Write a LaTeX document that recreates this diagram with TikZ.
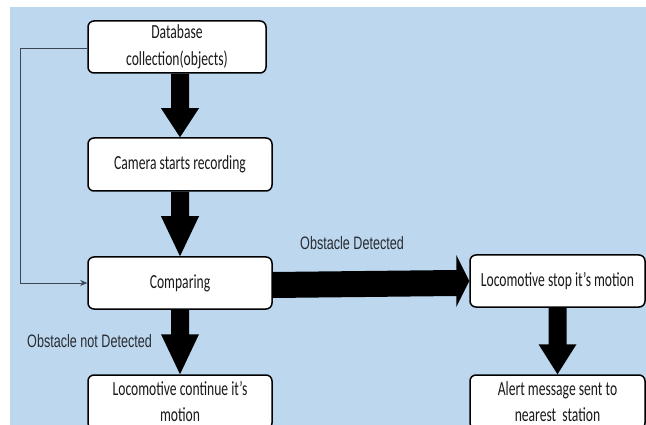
\documentclass[tikz,border=0pt]{standalone}
\usepackage{fontspec}
\setmainfont{Carlito}
\newfontfamily\boxfont[FakeStretch=0.68]{Carlito}
\newfontfamily\labfont[FakeStretch=0.7]{Liberation Sans}
\usetikzlibrary{calc,arrows.meta}
\definecolor{bgblue}{RGB}{189,215,238}
\definecolor{labgray}{RGB}{40,44,50}
\definecolor{fbline}{RGB}{60,70,85}
\tikzset{
  flowbox/.style={draw=black, line width=1.5pt, fill=white, rounded corners=6pt,
    minimum height=52pt, inner sep=0pt, align=center,
    font=\boxfont\fontsize{20}{27}\selectfont, text=black!90},
  lab/.style={font=\labfont\fontsize{18}{20}\selectfont, text=labgray, inner sep=0pt},
}
\newcommand\vbig[3]{% from, to, head length
  \fill[black] ($(#2.north |- #1.south)+(-9,0)$) -- ($(#2.north)+(-9,-#3)$) -- ($(#2.north)+(-19,-#3)$)
    -- (#2.north) -- ($(#2.north)+(19,-#3)$) -- ($(#2.north)+(9,-#3)$) -- ($(#2.north |- #1.south)+(9,0)$) -- cycle;}
\begin{document}
\begin{tikzpicture}[x=1pt,y=-1pt]
\useasboundingbox (0,0) rectangle (646,425);
\clip (0,0) rectangle (646,425);
\fill[bgblue] (10,7) rectangle (646,425);

\node[flowbox, minimum width=178pt] (db) at (177,47) {Database\\collection(objects)};
\node[flowbox, minimum width=184pt, minimum height=53pt] (cam) at (180,164.5) {Camera starts recording};
\node[flowbox, minimum width=184pt] (cmp) at (180,283) {Comparing};
\node[flowbox, minimum width=184pt, minimum height=54pt, font=\boxfont\fontsize{20}{26}\selectfont] (cont) at (180,402) {Locomotive continue it’s\\motion};
\node[flowbox, minimum width=175pt] (stop) at (557.5,281) {Locomotive stop it’s motion};
\node[flowbox, minimum width=175pt, minimum height=54pt, font=\boxfont\fontsize{20}{26}\selectfont] (alert) at (557.5,402) {Alert message sent to\\nearest\ \ station};

% big arrows
\vbig{db}{cam}{29}
\vbig{cam}{cmp}{40}
\vbig{cmp}{cont}{40}
\vbig{stop}{alert}{30}
\fill[black] ($(cmp.east)+(0,-11)$) -- ($(stop.west)+(-13,-11)$) -- ($(stop.west)+(-13,-26)$)
  -- (stop.west) -- ($(stop.west)+(-13,26)$) -- ($(stop.west)+(-13,15)$) -- ($(cmp.east)+(0,15)$) -- cycle;

% feedback line
\coordinate (fb1) at (20,48);
\coordinate (fb2) at (20,283);
\draw[fbline, line width=0.8pt, -{Stealth[length=7pt,width=6pt]}] (db.west |- fb1) -- (fb1) -- (fb2) -- (cmp.west);

% labels
\node[lab, anchor=west] (l1) at (300,243) {Obstacle Detected};
\node[lab, anchor=west] (l2) at (27,341) {Obstacle not Detected};
\end{tikzpicture}
\end{document}
